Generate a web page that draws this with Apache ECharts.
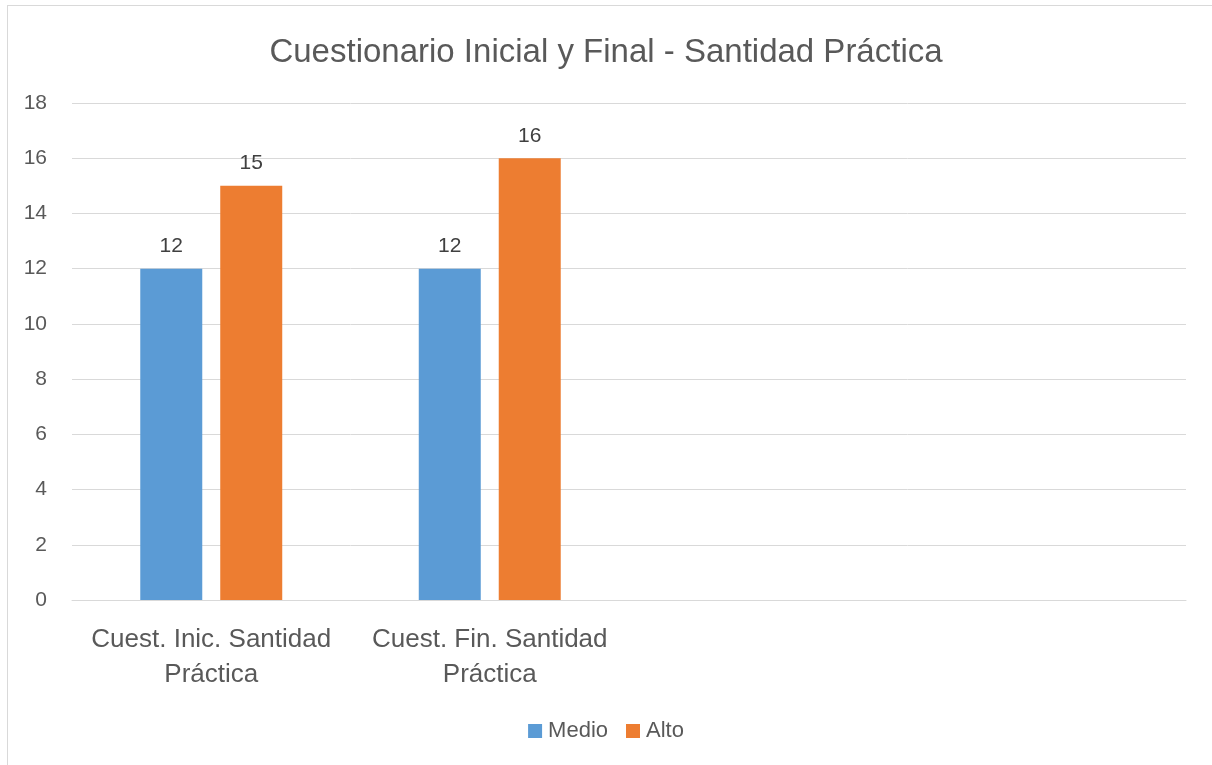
<!DOCTYPE html>
<html>
<head>
<meta charset="utf-8">
<script src="https://cdn.jsdelivr.net/npm/echarts@6/dist/echarts.min.js"></script>
<style>
	html, body { margin: 0; padding: 0; background: #fff; }
	#frame {
		position: absolute; left: 7px; top: 5px; width: 1300px; height: 900px;
		border-left: 1px solid #d9d9d9; border-top: 1px solid #d9d9d9;
	}
	#chart { position: absolute; left: 0; top: 0; width: 1212px; height: 765px; }
</style>
</head>
<body>
<div id="frame"></div>
<div id="chart"></div>
<script>
var categories = ['Cuest. Inic. Santidad\nPráctica', 'Cuest. Fin. Santidad\nPráctica', '', ''];
var medio = [12, 12, null, null];
var alto = [15, 16, null, null];
var yTicks = { min: 0, max: 18, interval: 2 };

var fontName = '"Liberation Sans", "Noto Sans", sans-serif';

var myChart = echarts.init(document.getElementById('chart'));
var option = {
	animation: false,
	color: ['#5b9bd5', '#ed7d31'],
	title: {
		text: 'Cuestionario Inicial y Final - Santidad Práctica',
		left: 'center',
		top: 31,
		textStyle: {
			color: '#595959',
			fontSize: 33,
			fontWeight: 'normal',
			fontFamily: fontName
		}
	},
	legend: {
		bottom: 18,
		left: 'center',
		itemWidth: 14,
		itemHeight: 14,
		itemGap: 18,
		icon: 'rect',
		textStyle: {
			color: '#595959',
			fontSize: 22,
			fontFamily: fontName,
			padding: [0, 0, 0, 1]
		},
		data: ['Medio', 'Alto']
	},
	grid: {
		left: 72,
		right: 26,
		top: 103,
		bottom: 165,
		containLabel: false
	},
	xAxis: {
		type: 'category',
		data: categories,
		axisLine: { lineStyle: { color: '#d9d9d9', width: 1 } },
		axisTick: { show: false },
		axisLabel: {
			color: '#595959',
			fontSize: 26,
			fontFamily: fontName,
			lineHeight: 35,
			margin: 22,
			interval: 0
		}
	},
	yAxis: {
		type: 'value',
		min: yTicks.min,
		max: yTicks.max,
		interval: yTicks.interval,
		axisLine: { show: false },
		axisTick: { show: false },
		axisLabel: {
			color: '#595959',
			fontSize: 21,
			fontFamily: fontName,
			margin: 25
		},
		splitLine: { lineStyle: { color: '#d9d9d9', width: 1 } }
	},
	series: [
		{
			name: 'Medio',
			type: 'bar',
			data: medio,
			barWidth: 62,
			barGap: '29%',
			label: {
				show: true,
				position: 'top',
				distance: 12,
				color: '#404040',
				fontSize: 21,
				fontFamily: fontName
			}
		},
		{
			name: 'Alto',
			type: 'bar',
			data: alto,
			barWidth: 62,
			barGap: '29%',
			label: {
				show: true,
				position: 'top',
				distance: 12,
				color: '#404040',
				fontSize: 21,
				fontFamily: fontName
			}
		}
	]
};
myChart.setOption(option);
</script>
</body>
</html>
